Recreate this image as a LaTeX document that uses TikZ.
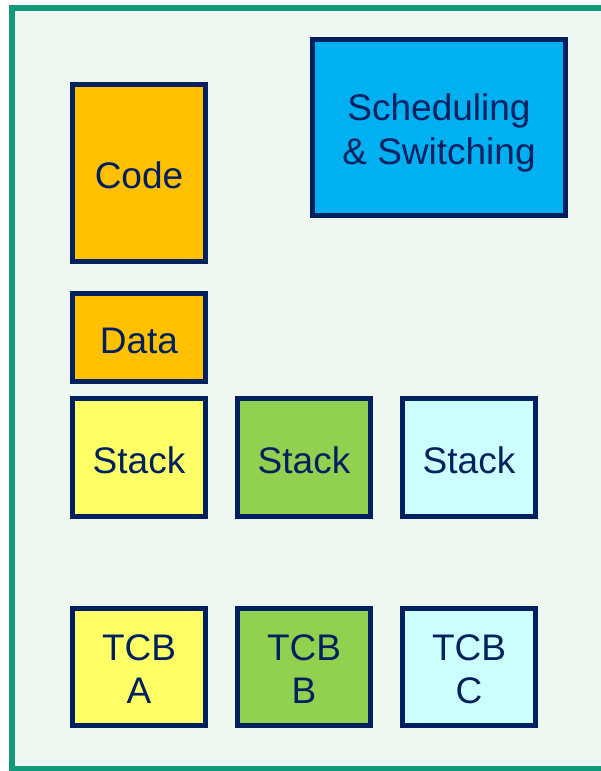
\documentclass[tikz,border=0pt]{standalone}
\usepackage{fontspec}
\setmainfont{Liberation Sans}
\definecolor{framegreen}{HTML}{12997A}
\definecolor{panelbg}{HTML}{EEF7F2}
\definecolor{navy}{HTML}{002060}
\definecolor{amber}{HTML}{FFC000}
\definecolor{sky}{HTML}{00B0F0}
\definecolor{paleyellow}{HTML}{FFFF66}
\definecolor{leaf}{HTML}{92D050}
\definecolor{paleaqua}{HTML}{CCFFFF}
% set a line a little lower without changing its box
\newcommand\dropline[2][3pt]{\raisebox{-#1}[\height][\depth]{#2}}
\begin{document}
\begin{tikzpicture}[x=1pt,y=-1pt,
  block/.style={draw=navy,line width=5pt,text=navy,inner sep=0pt,
    font=\fontsize{37}{44}\selectfont,align=center},
  smallblock/.style={block,minimum width=133pt,minimum height=118pt}]
\useasboundingbox (0,0) rectangle (601,771);
% outer panel
\draw[framegreen,fill=panelbg,line width=6pt] (12,8) rectangle (608,768.5);
% memory regions
\node[block,fill=amber,minimum width=133pt,minimum height=177pt] (code) at (139,173) {\dropline[2pt]{Code}};
\node[block,fill=sky,minimum width=253pt,minimum height=176pt] (sched) at (439,127.5)
  {\dropline[5pt]{Scheduling}\\\dropline[5pt]{\& Switching}};
\node[block,fill=amber,minimum width=133pt,minimum height=88pt] (data) at (139,337.5) {\dropline{Data}};
% per-task stacks
\node[smallblock,fill=paleyellow] (stackA) at (139,457.5) {\dropline{Stack}};
\node[smallblock,fill=leaf] (stackB) at (304,457.5) {\dropline{Stack}};
\node[smallblock,fill=paleaqua] (stackC) at (469,457.5) {\dropline{Stack}};
% task control blocks
\node[smallblock,minimum height=117pt,fill=paleyellow] (tcbA) at (139,667) {\dropline{TCB}\\\dropline[2pt]{A}};
\node[smallblock,minimum height=117pt,fill=leaf] (tcbB) at (304,667) {\dropline{TCB}\\\dropline[2pt]{B}};
\node[smallblock,minimum height=117pt,fill=paleaqua] (tcbC) at (469,667) {\dropline{TCB}\\\dropline[2pt]{C}};
\end{tikzpicture}
\end{document}
